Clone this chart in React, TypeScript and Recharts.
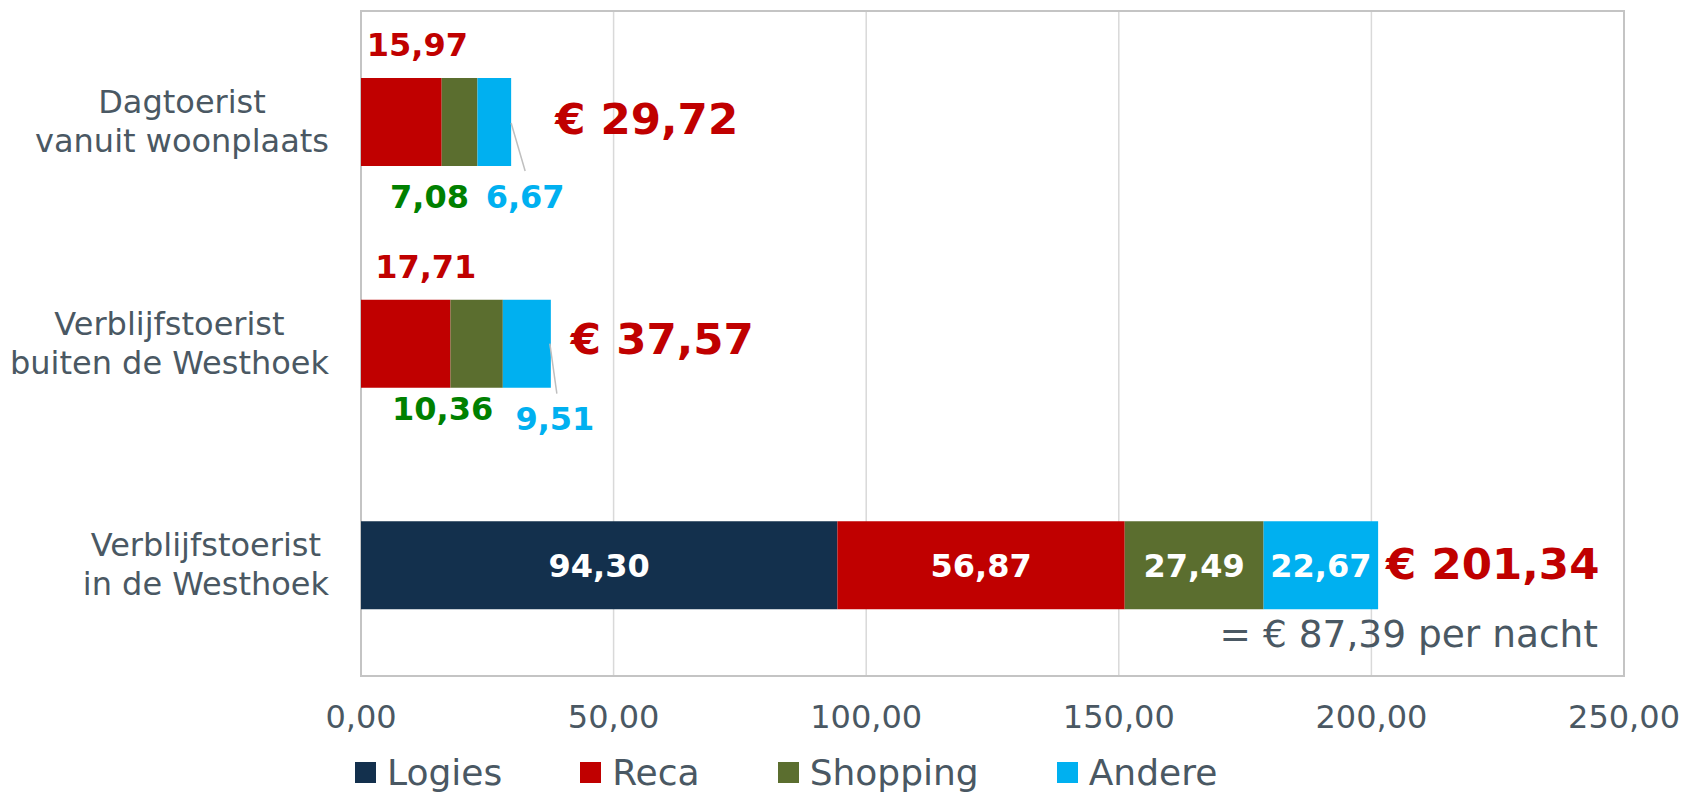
import { BarChart, Bar, XAxis, YAxis, CartesianGrid, Legend, LabelList, ReferenceArea } from 'recharts';

// uitgaven per toerist (euro)
const categories = ['Dagtoerist\nvanuit woonplaats', 'Verblijfstoerist\nbuiten de Westhoek', 'Verblijfstoerist\nin de Westhoek'];
const logies = [0, 0, 94.3];
const reca = [15.97, 17.71, 56.87];
const shopping = [7.08, 10.36, 27.49];
const andere = [6.67, 9.51, 22.67];
const totals = [29.72, 37.57, 201.34];
const perNacht = 87.39;
const xTicks = [0, 50, 100, 150, 200, 250];

const data = categories.map((name, i) => ({
  name,
  logies: logies[i],
  reca: reca[i],
  shopping: shopping[i],
  andere: andere[i],
}));

const FONT = 'DejaVu Sans, Verdana, sans-serif';
const TEXT = '#4A5863';
const series = [
  { key: 'logies', name: 'Logies', color: '#13304D' },
  { key: 'reca', name: 'Reca', color: '#C00000' },
  { key: 'shopping', name: 'Shopping', color: '#5B6E2F' },
  { key: 'andere', name: 'Andere', color: '#00B0F0' },
];

const fmt = (v: number) => v.toFixed(2).replace('.', ',');

let ctx: CanvasRenderingContext2D | null = null;
function measure(text: string, font: string) {
  if (!ctx) ctx = document.createElement('canvas').getContext('2d');
  if (!ctx) return text.length * 18;
  ctx.font = font;
  return ctx.measureText(text).width;
}

function CategoryTick(props: any) {
  const { x, y, payload } = props;
  const lines = String(payload.value).split('\n');
  const w = Math.max(...lines.map((l) => measure(l, `32px ${FONT}`)));
  const cx = x - w / 2;
  return (
    <text x={cx} y={y} textAnchor="middle" fill={TEXT} fontSize={32} fontFamily={FONT}>
      {lines.map((l, i) => (
        <tspan key={i} x={cx} y={y - 9 + i * 39}>
          {l}
        </tspan>
      ))}
    </text>
  );
}

// kleine balken: labels buiten de balk (index 0 en 1)
const recaOut = [16, 20];
const shopOut = [[-30, 42], [-34, 32]];
const andereOut = [[14, 42], [4, 42]];
const leader = [[0, 45, 14, 5], [-1, 44, 6, 6]];
const totalOff = [[44, 12], [20, 10], [8, 14]];

const inside = (p: any) => {
  const { x, y, width, height, value } = p;
  if (!value) return null;
  return (
    <text x={x + width / 2} y={y + height / 2 + 12} textAnchor="middle" fill="#fff" fontSize={32} fontWeight="bold" fontFamily={FONT}>
      {fmt(value)}
    </text>
  );
};

const logiesLabel = (p: any) => (p.value > 0 ? inside(p) : null);

const recaLabel = (p: any) => {
  if (p.index === 2) return inside(p);
  const { x, y, width, value, index } = p;
  return (
    <text x={x + width / 2 + recaOut[index]} y={y - 22} textAnchor="middle" fill="#C00000" fontSize={32} fontWeight="bold" fontFamily={FONT}>
      {fmt(value)}
    </text>
  );
};

const shopLabel = (p: any) => {
  if (p.index === 2) return inside(p);
  const { x, y, width, height, value, index } = p;
  const [dx, dy] = shopOut[index];
  return (
    <text x={x + width / 2 + dx} y={y + height + dy} textAnchor="middle" fill="#008000" fontSize={32} fontWeight="bold" fontFamily={FONT}>
      {fmt(value)}
    </text>
  );
};

const andereLabel = (p: any) => {
  const { x, y, width, height, value, index } = p;
  const end = x + width;
  const [tx, ty] = totalOff[index];
  const total = (
    <text x={end + tx} y={y + height / 2 + ty} fill="#C00000" fontSize={43.5} fontWeight="bold" fontFamily={FONT}>
      € {fmt(totals[index])}
    </text>
  );
  if (index === 2) {
    return (
      <g>
        {inside(p)}
        {total}
        <text x={1598} y={y + height + 38} textAnchor="end" fill={TEXT} fontSize={37.5} fontFamily={FONT}>
          = € {fmt(perNacht)} per nacht
        </text>
      </g>
    );
  }
  const [ax, ay, bx, by] = leader[index];
  const [dx, dy] = andereOut[index];
  return (
    <g>
      <line x1={end + ax} y1={y + ay} x2={end + bx} y2={y + height + by} stroke="#BFBFBF" strokeWidth={1.5} />
      <text x={end + dx} y={y + height + dy} textAnchor="middle" fill="#00B0F0" fontSize={32} fontWeight="bold" fontFamily={FONT}>
        {fmt(value)}
      </text>
      {total}
    </g>
  );
};

const renderLegend = () => (
  <div style={{ display: 'flex', alignItems: 'center', height: 40, fontFamily: FONT, fontSize: 36, color: TEXT }}>
    {series.map((s) => (
      <div key={s.key} style={{ display: 'flex', alignItems: 'center', marginRight: 78 }}>
        <span style={{ width: 21, height: 21, background: s.color, marginRight: 11, display: 'inline-block' }} />
        <span>{s.name}</span>
      </div>
    ))}
  </div>
);

const labelFns: Record<string, (p: any) => any> = {
  logies: logiesLabel,
  reca: recaLabel,
  shopping: shopLabel,
  andere: andereLabel,
};

export default function App() {
  return (
    <div style={{ position: 'absolute', left: 0, top: 0, width: 1685, height: 792, background: '#fff' }}>
      <BarChart width={1685} height={792} data={data} layout="vertical" margin={{ top: 11, right: 61, bottom: 0, left: 0 }}>
        <CartesianGrid horizontal={false} stroke="#D9D9D9" strokeWidth={1.5} />
        <ReferenceArea x1={0} x2={250} fill="none" stroke="#C4C4C4" strokeWidth={2} />
        <XAxis
          type="number"
          domain={[0, 250]}
          ticks={xTicks}
          tickFormatter={fmt}
          height={76}
          axisLine={false}
          tickLine={false}
          tickSize={0}
          tickMargin={29}
          tick={{ fill: TEXT, fontSize: 32, fontFamily: FONT }}
        />
        <YAxis
          type="category"
          dataKey="name"
          width={361}
          axisLine={false}
          tickLine={false}
          tickSize={0}
          tickMargin={32}
          tick={<CategoryTick />}
        />
        <Legend
          verticalAlign="bottom"
          align="left"
          content={renderLegend}
          wrapperStyle={{ left: 355, top: 752, bottom: 'auto', width: 1200, height: 40 }}
        />
        {series.map((s) => (
          <Bar key={s.key} dataKey={s.key} name={s.name} stackId="a" fill={s.color} barSize={88} isAnimationActive={false}>
            <LabelList dataKey={s.key} content={labelFns[s.key]} />
          </Bar>
        ))}
      </BarChart>
    </div>
  );
}
